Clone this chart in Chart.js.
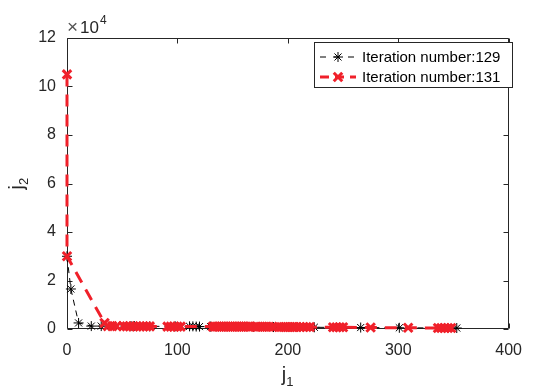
<!DOCTYPE html>
<html>
<head>
<meta charset="utf-8">
<script src="https://cdn.jsdelivr.net/npm/chart.js@4.4.0/dist/chart.umd.min.js"></script>
<style>
  html, body { margin: 0; padding: 0; background: #fff; }
  #wrap { width: 534px; height: 387px; position: relative; }
</style>
</head>
<body>
<div id="wrap"><canvas id="convChart"></canvas></div>
<script>
// j1 / j2 values, j2 in units of 10^4
const run129X = [0, 3.5, 10.5, 22, 31, 58, 61, 75, 98, 111, 114, 117, 120, 130, 169, 187, 224, 266, 301, 353];
const run129Y = [3.0, 1.65, 0.25, 0.12, 0.12, 0.12, 0.12, 0.11, 0.11, 0.11, 0.11, 0.1, 0.1, 0.1, 0.09, 0.08, 0.07, 0.06, 0.05, 0.04];

const run131X = [0, 0, 34, 37, 41, 45, 51, 54, 57, 60, 63, 66, 69, 72, 75, 91, 94, 97, 100, 103,
  132, 134, 136, 138, 140, 142, 144, 146, 148, 150, 152, 154, 156, 158, 160, 162, 164, 166,
  171, 173, 175, 177, 179, 181, 183, 186, 192, 194, 196, 198, 200, 202, 204, 206, 208, 211,
  214, 217, 220, 241, 244, 247, 250, 275, 309, 336, 339, 342, 345, 348];
const run131Y = [10.5, 3.0, 0.25, 0.12, 0.12, 0.12, 0.12, 0.11, 0.11, 0.11, 0.11, 0.11, 0.11, 0.11, 0.11, 0.1, 0.1, 0.1, 0.1, 0.1,
  0.1, 0.1, 0.1, 0.1, 0.1, 0.1, 0.1, 0.1, 0.1, 0.1, 0.1, 0.1, 0.1, 0.1, 0.1, 0.1, 0.1, 0.1,
  0.09, 0.09, 0.09, 0.09, 0.09, 0.09, 0.09, 0.09, 0.08, 0.08, 0.08, 0.08, 0.08, 0.08, 0.08, 0.08, 0.08, 0.08,
  0.08, 0.08, 0.08, 0.07, 0.07, 0.07, 0.07, 0.06, 0.05, 0.04, 0.04, 0.04, 0.04, 0.04];

const seriesNames = ['Iteration number:129', 'Iteration number:131'];
const xTicks = [0, 100, 200, 300, 400];
const yTicks = [0, 2, 4, 6, 8, 10, 12];

const FONT = "'Liberation Sans', Arial, sans-serif";
const INK = '#262626';
const RED = '#f0202a';

function toPoints(xs, ys) {
  return xs.map((x, i) => ({ x: x, y: ys[i] }));
}

// box, inward ticks and the x10^4 multiplier
const axesFrame = {
  id: 'axesFrame',
  beforeDatasetsDraw(chart) {
    const { ctx, chartArea: a, scales } = chart;
    const l = Math.round(a.left) + 0.5, r = Math.round(a.right) - 0.5;
    const t = Math.round(a.top) + 0.5, b = Math.round(a.bottom) - 0.5;
    ctx.save();
    ctx.strokeStyle = INK;
    ctx.lineWidth = 1;
    ctx.beginPath();
    ctx.rect(l, t, r - l, b - t);
    xTicks.forEach(v => {
      const px = Math.round(scales.x.getPixelForValue(v)) + 0.5;
      ctx.moveTo(px, b); ctx.lineTo(px, b - 5);
      ctx.moveTo(px, t); ctx.lineTo(px, t + 5);
    });
    yTicks.forEach(v => {
      const py = Math.round(scales.y.getPixelForValue(v)) + 0.5;
      ctx.moveTo(l, py); ctx.lineTo(l + 5, py);
      ctx.moveTo(r, py); ctx.lineTo(r - 5, py);
    });
    ctx.stroke();
    ctx.restore();
  },
  afterDraw(chart) {
    const { ctx, chartArea: a } = chart;
    ctx.save();
    ctx.fillStyle = INK;
    ctx.textBaseline = 'alphabetic';
    ctx.textAlign = 'left';
    ctx.fillStyle = '#555';
    ctx.font = '19px ' + FONT;
    ctx.fillText('\u00d7', a.left, 33);
    ctx.fillStyle = INK;
    ctx.font = '17px ' + FONT;
    ctx.fillText('10', a.left + 13, 33);
    ctx.font = '12px ' + FONT;
    ctx.fillText('4', a.left + 33, 24);

    // axis titles with subscripts
    const cx = (a.left + a.right) / 2;
    ctx.font = '20px ' + FONT;
    const jw = ctx.measureText('j').width;
    ctx.fillText('j', cx - 6, 381);
    ctx.font = '13px ' + FONT;
    ctx.fillText('1', cx - 6 + jw, 386);

    const cy = (a.top + a.bottom) / 2;
    ctx.translate(23, cy);
    ctx.rotate(-Math.PI / 2);
    ctx.font = '20px ' + FONT;
    ctx.fillText('j', -6, 0);
    ctx.font = '13px ' + FONT;
    ctx.fillText('2', -6 + jw, 5);
    ctx.restore();
  }
};

// boxed legend in the upper right corner
const boxLegend = {
  id: 'boxLegend',
  afterDraw(chart) {
    const { ctx } = chart;
    const bx = 314, by = 42, bw = 198, bh = 45;
    ctx.save();
    ctx.fillStyle = '#fff';
    ctx.fillRect(bx, by, bw, bh);
    ctx.strokeStyle = INK;
    ctx.lineWidth = 1;
    ctx.strokeRect(bx + 0.5, by + 0.5, bw, bh);

    chart.data.datasets.forEach((ds, i) => {
      const rowY = 57 + i * 20;
      ctx.save();
      ctx.strokeStyle = ds.borderColor;
      ctx.lineWidth = ds.borderWidth;
      ctx.setLineDash(i === 0 ? [6, 8] : [9, 6]);
      ctx.beginPath();
      ctx.moveTo(320, rowY);
      ctx.lineTo(356, rowY);
      ctx.stroke();
      ctx.setLineDash([]);
      ctx.lineWidth = ds.pointBorderWidth;
      Chart.helpers.drawPoint(ctx, {
        pointStyle: ds.pointStyle,
        radius: ds.pointRadius,
        rotation: 0,
        borderWidth: ds.pointBorderWidth
      }, 338, rowY);
      ctx.restore();

      ctx.fillStyle = '#000';
      ctx.font = '15px ' + FONT;
      ctx.textBaseline = 'middle';
      ctx.textAlign = 'left';
      ctx.fillText(ds.label, 362, rowY + 1);
    });
    ctx.restore();
  }
};

function initConvChart() {
  const ctx = document.getElementById('convChart');

  new Chart(ctx, {
    type: 'line',
    data: {
      datasets: [
        {
          label: seriesNames[0],
          data: toPoints(run129X, run129Y),
          borderColor: '#000',
          backgroundColor: '#000',
          borderWidth: 1,
          borderDash: [6, 5],
          pointStyle: 'star',
          pointRadius: 5,
          pointBorderWidth: 1,
          pointBorderColor: '#000',
          fill: false,
          tension: 0,
          clip: false,
          order: 2
        },
        {
          label: seriesNames[1],
          data: toPoints(run131X, run131Y),
          borderColor: RED,
          backgroundColor: RED,
          borderWidth: 3,
          borderDash: [12, 8],
          pointStyle: 'crossRot',
          pointRadius: 6,
          pointBorderWidth: 3,
          pointBorderColor: RED,
          fill: false,
          tension: 0,
          clip: false,
          order: 1
        }
      ]
    },
    options: {
      responsive: true,
      maintainAspectRatio: false,
      animation: false,
      layout: { padding: { top: 38, right: 16, left: 0, bottom: 0 } },
      plugins: {
        legend: { display: false },
        tooltip: { enabled: false }
      },
      scales: {
        x: {
          type: 'linear',
          min: 0,
          max: 400,
          afterBuildTicks: s => { s.ticks = xTicks.map(v => ({ value: v })); },
          afterFit: s => { s.height = 58; },
          grid: { display: false, drawTicks: false },
          border: { display: false },
          ticks: {
            padding: 12,
            maxRotation: 0,
            autoSkip: false,
            color: INK,
            font: { size: 16, family: FONT }
          }
        },
        y: {
          type: 'linear',
          min: 0,
          max: 12,
          afterBuildTicks: s => { s.ticks = yTicks.map(v => ({ value: v })); },
          afterFit: s => { s.width = 67; },
          grid: { display: false, drawTicks: false },
          border: { display: false },
          ticks: {
            padding: 11,
            autoSkip: false,
            color: INK,
            font: { size: 16, family: FONT }
          }
        }
      }
    },
    plugins: [axesFrame, boxLegend]
  });
}

initConvChart();
</script>
</body>
</html>
